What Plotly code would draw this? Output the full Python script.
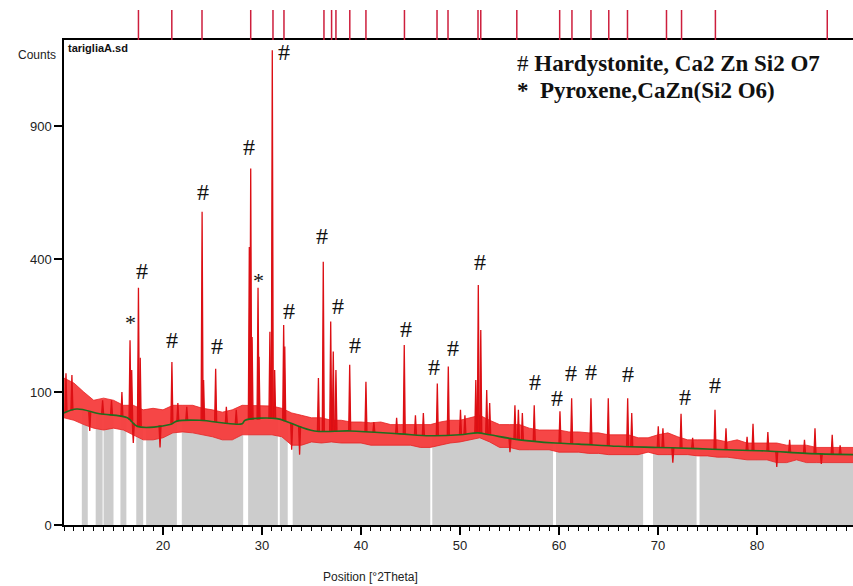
import numpy as np
import plotly.graph_objects as go

# ---------------- data ----------------
# background (green) curve, counts vs 2theta
bg_x = [10, 11.3, 13.6, 16.4, 17.4, 20.7, 21.4, 23.7, 26.8, 28.0, 28.3, 31.5, 32.8,
        35.3, 38.9, 43.9, 47.0, 50.0, 51.8, 53.0, 56.0, 59.6, 62.0, 66.0, 70.0,
        74.0, 77.0, 81.0, 85.0, 89.7]
bg_counts = [71, 76, 70, 65, 55, 57, 61, 62, 58, 58, 62, 64, 59,
             50, 50, 47, 45, 46, 48, 46, 41, 38, 37, 35, 34,
             33, 32, 31, 29, 28]

# noise band of the measured pattern (upper / lower envelope, counts)
env_x = list(range(10, 90)) + [89.7]
env_upper = [122, 114, 100, 88, 91, 88, 81, 81, 75, 77, 75, 81, 81, 81, 77, 75, 72, 75,
             81, 81, 81, 80, 77, 71, 68, 65, 65, 62, 62, 60, 60, 59, 60, 57, 57, 57,
             57, 57, 60, 62, 62, 65, 68, 62, 57, 57, 57, 53, 51, 51, 51, 49, 49, 48,
             48, 46, 46, 46, 43, 43, 46, 48, 44, 41, 41, 41, 41, 39, 41, 38, 38, 38,
             38, 36, 36, 36, 34, 34, 34, 34, 34]
env_lower = [65, 62, 57, 53, 51, 53, 51, 46, 41, 41, 43, 48, 49, 48, 46, 44, 41, 41,
             46, 46, 46, 46, 44, 36, 36, 39, 38, 39, 38, 38, 38, 36, 36, 36, 36, 36,
             34, 34, 36, 38, 39, 41, 43, 39, 34, 34, 32, 32, 32, 32, 30, 30, 30, 29,
             29, 28, 28, 28, 28, 30, 28, 28, 28, 28, 27, 27, 26, 26, 25, 24, 24, 24,
             22, 22, 24, 22, 22, 22, 22, 22, 22]

# diffraction peaks (position, counts)
peak_pos = [10.2, 10.8, 13.9, 14.8, 15.85, 16.67, 16.84, 17.52, 17.7, 20.9, 21.5, 22.4,
            23.95, 24.1, 25.32, 26.4, 27.4, 28.72, 28.86, 29.0, 29.6, 29.7, 30.8, 31.04,
            31.28, 32.19, 32.3, 35.7, 36.19, 36.94, 37.2, 37.47, 38.86, 40.5, 41.3, 43.6,
            44.37, 45.5, 46.3, 47.71, 48.82, 50.05, 50.5, 51.6, 51.85, 52.1, 52.7, 53.0,
            55.55, 55.9, 56.3, 57.5, 60.1, 61.28, 63.23, 64.98, 66.94, 67.35, 70.03,
            70.5, 72.33, 73.5, 75.76, 76.87, 79.0, 79.6, 81.1, 83.3, 84.8, 85.86, 87.6, 88.4]
peak_counts = [130, 127, 88, 88, 100, 193, 136, 318, 158, 150, 84, 79,
               555, 119, 138, 79, 75, 437, 719, 200, 318, 160, 211, 1275,
               136, 226, 180, 122, 392, 234, 170, 136, 145, 116, 60, 65,
               183, 68, 71, 113, 142, 75, 68, 119, 326, 215, 103, 84,
               81, 75, 71, 81, 73, 91, 91, 91, 91, 71, 55,
               53, 70, 43, 75, 53, 44, 58, 49, 41, 41, 53, 46, 36]

# downward noise excursions (position, counts)
dip_pos = [12.6, 17.0, 19.7, 33.0, 33.8, 55.05, 71.5, 82.0, 86.5]
dip_counts = [50, 38, 34, 32, 28, 30, 22, 19, 21]

# grey background regions (start / end, 2theta)
gray_start = [11.8, 13.2, 14.0, 15.7, 17.3, 18.3, 21.9, 28.6, 31.8, 33.1, 47.2, 59.7, 69.5, 74.2]
gray_end = [12.4, 13.9, 15.0, 16.3, 18.0, 21.4, 28.1, 31.6, 32.6, 47.0, 59.4, 68.5, 73.9, 89.7]

# reference pattern lines (Hardystonite), 2theta
ref_lines = [17.52, 20.89, 23.94, 28.86, 31.11, 32.22, 36.26, 37.03, 37.47, 38.87, 40.5,
             44.39, 47.68, 48.79, 51.82, 52.1, 55.74, 60.07, 61.31, 63.23, 65.03, 66.92,
             70.86, 72.38, 75.8, 87.1]

# phase marks on peaks
label_x = [16.67, 17.88, 20.9, 24.04, 25.45, 28.69, 29.6, 32.22, 32.73, 36.06, 37.68,
           39.4, 44.55, 47.37, 49.3, 52.02, 57.58, 59.8, 61.21, 63.23, 66.97, 72.73, 75.76]
label_counts = [233, 365, 193, 627, 181, 808, 339, 1265, 259, 472, 271,
                183, 217, 141, 177, 391, 116, 91, 131, 132, 129, 93, 111]
label_text = ["*", "#", "#", "#", "#", "#", "*", "#", "#", "#", "#",
              "#", "#", "#", "#", "#", "#", "#", "#", "#", "#", "#", "#"]

y_tick_counts = [0, 100, 400, 900]
x_tick_vals = [20, 30, 40, 50, 60, 70, 80]

# ---------------- figure ----------------
sq = np.sqrt
fig = go.Figure()

# grey background regions
for a, b in zip(gray_start, gray_end):
    inner = [x for x in bg_x if a < x < b]
    xs = [a] + inner + [b]
    ys = sq(np.interp(xs, bg_x, bg_counts))
    fig.add_trace(go.Scatter(x=xs, y=ys, mode="lines", line=dict(width=0),
                             fill="tozeroy", fillcolor="#cccccc",
                             hoverinfo="skip", showlegend=False))

# noise band
fig.add_trace(go.Scatter(x=env_x, y=sq(env_lower), mode="lines",
                         line=dict(width=0.8, color="rgb(230,35,35)"),
                         showlegend=False, hoverinfo="skip"))
fig.add_trace(go.Scatter(x=env_x, y=sq(env_upper), mode="lines",
                         line=dict(width=0.8, color="rgb(230,35,35)"),
                         fill="tonexty", fillcolor="rgba(245,60,60,0.95)",
                         showlegend=False, hoverinfo="skip"))

# peaks and dips
px, py = [], []
base = np.interp(peak_pos, bg_x, bg_counts)
for p, h, b0 in zip(peak_pos, peak_counts, base):
    px += [p - 0.1, p, p + 0.1, None]
    py += [sq(b0), sq(h), sq(b0), None]
dbase = np.interp(dip_pos, bg_x, bg_counts)
for p, h, b0 in zip(dip_pos, dip_counts, dbase):
    px += [p - 0.1, p, p + 0.1, None]
    py += [sq(b0), sq(h), sq(b0), None]
fig.add_trace(go.Scatter(x=px, y=py, mode="lines",
                         line=dict(width=1.3, color="rgb(220,15,20)"),
                         fill="toself", fillcolor="rgb(235,20,20)",
                         showlegend=False, hoverinfo="skip"))

# background curve
fig.add_trace(go.Scatter(x=bg_x, y=sq(bg_counts), mode="lines",
                         line=dict(width=1.6, color="rgb(30,110,30)", shape="spline"),
                         showlegend=False, hoverinfo="skip"))

# reference lines above the plot
rx, ry = [], []
for r in ref_lines:
    rx += [r, r, None]
    ry += [0, 1, None]
fig.add_trace(go.Scatter(x=rx, y=ry, yaxis="y2", mode="lines",
                         line=dict(width=1.5, color="rgb(205,30,60)"),
                         showlegend=False, hoverinfo="skip"))

# phase labels
for lx, lc, t in zip(label_x, label_counts, label_text):
    fig.add_annotation(x=lx, y=sq(lc), text=t, showarrow=False,
                       font=dict(family="Liberation Serif", size=24 if t == "#" else 22,
                                 color="#111111"),
                       xanchor="center", yanchor="middle")

# legend text
fig.add_annotation(xref="paper", yref="paper", x=0.5716, y=0.897, xanchor="left", yanchor="middle",
                   text="# <b>Hardystonite, Ca2 Zn Si2 O7</b>", showarrow=False,
                   font=dict(family="Liberation Serif", size=23, color="#111111"))
fig.add_annotation(xref="paper", yref="paper", x=0.5716, y=0.843, xanchor="left", yanchor="middle",
                   text="<b>*  Pyroxene,CaZn(Si2 O6)</b>", showarrow=False,
                   font=dict(family="Liberation Serif", size=23, color="#111111"))

# texts around the axes
fig.add_annotation(xref="paper", yref="paper", x=0, y=0.9126, xanchor="right", yanchor="middle",
                   xshift=-6, text="Counts", showarrow=False,
                   font=dict(family="Liberation Sans", size=12, color="#222222"))
fig.add_annotation(xref="paper", yref="paper", x=0, y=0.9417, xanchor="left", yanchor="top",
                   xshift=2, text="<b>tarigliaA.sd</b>", showarrow=False,
                   font=dict(family="Liberation Sans Narrow, Liberation Sans", size=11, color="#111111"))
fig.add_annotation(xref="paper", yref="paper", x=0.388, y=0, xanchor="center", yanchor="middle",
                   yshift=-52, text="Position [°2Theta]", showarrow=False,
                   font=dict(family="Liberation Sans", size=12, color="#222222"))

fig.update_layout(
    width=853, height=586,
    margin=dict(l=64, r=0, t=10, b=61),
    paper_bgcolor="white", plot_bgcolor="white",
    xaxis=dict(range=[10, 89.7], tickmode="array", tickvals=x_tick_vals,
               ticks="outside", ticklen=8, tickwidth=1.5, tickcolor="black",
               showline=True, linecolor="black", linewidth=1.5, mirror=True,
               showgrid=False, zeroline=False,
               tickfont=dict(family="Liberation Sans", size=13, color="#222222"),
               minor=dict(tickmode="linear", tick0=0, dtick=1, ticks="outside",
                          ticklen=4, tickwidth=1.2, tickcolor="black", showgrid=False),
               anchor="y"),
    yaxis=dict(domain=[0, 485 / 515], range=[0, sq(1330)],
               tickmode="array", tickvals=sq(y_tick_counts).tolist(),
               ticktext=[str(v) for v in y_tick_counts],
               ticks="outside", ticklen=8, tickwidth=1.5, tickcolor="black",
               showline=True, linecolor="black", linewidth=1.5,
               showgrid=False, zeroline=False,
               tickfont=dict(family="Liberation Sans", size=13, color="#222222")),
    yaxis2=dict(domain=[485 / 515, 1], range=[0, 1], visible=False, anchor="x"),
)

fig.write_html("out.html", config={"displayModeBar": False},
               post_script="document.body.style.margin='0';document.body.style.padding='0';")
